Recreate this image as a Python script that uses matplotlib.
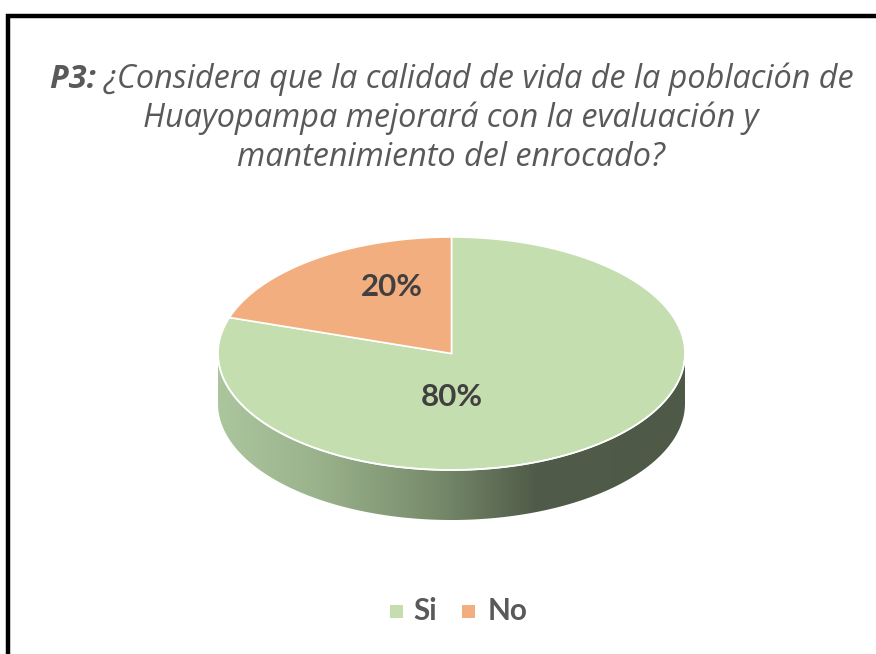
import numpy as np
import matplotlib
matplotlib.use("Agg")
import matplotlib.pyplot as plt
from matplotlib.patches import Polygon, Rectangle
from matplotlib.colors import LinearSegmentedColormap

# ---- data ----
categories = ["Si", "No"]
values = [80, 20]
labels = ["80%", "20%"]
colors_top = ["#C4DEB0", "#F2AE7F"]
title_bold = "P3:"
title_lines = ["¿Considera que la calidad de vida de la población de",
               "Huayopampa mejorará con la evaluación y",
               "mantenimiento del enrocado?"]

W, H = 876, 654
fig = plt.figure(figsize=(W / 100, H / 100), dpi=100)
ax = fig.add_axes([0, 0, 1, 1])
ax.set_xlim(0, W)
ax.set_ylim(H, 0)
ax.axis("off")
fig.canvas.draw()
rend = fig.canvas.get_renderer()


def width_of(txt, **kw):
    t = ax.text(0, 0, txt, **kw)
    w = t.get_window_extent(rend).width
    t.remove()
    return w


# border
ax.plot([7.5, 7.5, W + 5], [H + 5, 15.5, 15.5], color="black", lw=3.2,
        solid_joinstyle="miter", zorder=10)

# pie geometry (pixels)
cx, cy, rx, ry, depth = 451.5, 353.5, 233.5, 116.5, 50

# side band
th = np.linspace(np.pi, 2 * np.pi, 200)
xs = cx + rx * np.cos(th)
ys_top = cy - ry * np.sin(th)
band = np.concatenate([np.c_[xs, ys_top], np.c_[xs[::-1], ys_top[::-1] + depth]])
band_poly = Polygon(band, closed=True, facecolor="none", edgecolor="none")
ax.add_patch(band_poly)
cmap = LinearSegmentedColormap.from_list(
    "side", [(0, "#ABC59D"), (0.2, "#9CB48E"), (0.45, "#7A8E6D"),
             (0.68, "#505C49"), (1, "#4E5A47")])
grad = np.linspace(0, 1, 256)[None, :]
im = ax.imshow(grad, cmap=cmap, aspect="auto",
               extent=[cx - rx, cx + rx, cy + ry + depth + 2, cy - 2], zorder=1)
im.set_clip_path(band_poly)

# top wedges (start at 12 o'clock; Si clockwise, No fills the rest)
total = float(sum(values))
cur = 90.0
angles = []
for v in values:
    sweep = 360.0 * v / total
    angles.append((cur - sweep, cur))
    cur -= sweep
for (a0, a1), col in zip(angles, colors_top):
    t = np.radians(np.linspace(a0, a1, 200))
    pts = np.c_[cx + rx * np.cos(t), cy - ry * np.sin(t)]
    pts = np.vstack([[cx, cy], pts])
    ax.add_patch(Polygon(pts, closed=True, facecolor=col, edgecolor="white",
                         lw=1.2, zorder=3))
ax.plot(xs, ys_top, color="white", lw=1.2, zorder=4)

# data labels
lab_font = dict(fontweight="bold", color="#404040", family="Lato")
lab_size = 10 * 62 / width_of("80%", fontsize=10, **lab_font)
lab_pos = [(452, 397), (392, 287)]
for (lx, ly), lab in zip(lab_pos, labels):
    ax.text(lx, ly, lab, ha="center", va="center", fontsize=lab_size,
            zorder=5, **lab_font)

# title
tfont = dict(family="Open Sans", style="italic", color="#595959")
w10 = (width_of(title_bold + " ", fontsize=10, fontweight="bold", **tfont)
       + width_of(title_lines[0], fontsize=10, **tfont))
tsize = 10 * 805 / w10
baselines = [88, 127, 166]
tb = ax.text(0, 0, title_bold + " ", fontweight="bold", va="baseline",
             fontsize=tsize, **tfont)
tr = ax.text(0, 0, title_lines[0], va="baseline", fontsize=tsize, **tfont)
wb = tb.get_window_extent(rend).width
wr = tr.get_window_extent(rend).width
x0 = 452 - (wb + wr) / 2
tb.set_position((x0, baselines[0]))
tr.set_position((x0 + wb, baselines[0]))
for line, bl in zip(title_lines[1:], baselines[1:]):
    ax.text(451, bl, line, ha="center", va="baseline", fontsize=tsize, **tfont)

# legend
leg_font = dict(fontweight="bold", color="#595959", family="Lato")
leg_size = 10 * 40 / width_of("No", fontsize=10, **leg_font)
leg_y = 611
items = [(390, 413, "Si"), (462, 488, "No")]
for (sx, tx, name), col in zip(items, colors_top):
    ax.add_patch(Rectangle((sx, leg_y - 6.5), 13, 13, facecolor=col,
                           edgecolor="none"))
    ax.text(tx, leg_y, name, ha="left", va="center", fontsize=leg_size,
            **leg_font)

fig.savefig("out.png", dpi=100)
